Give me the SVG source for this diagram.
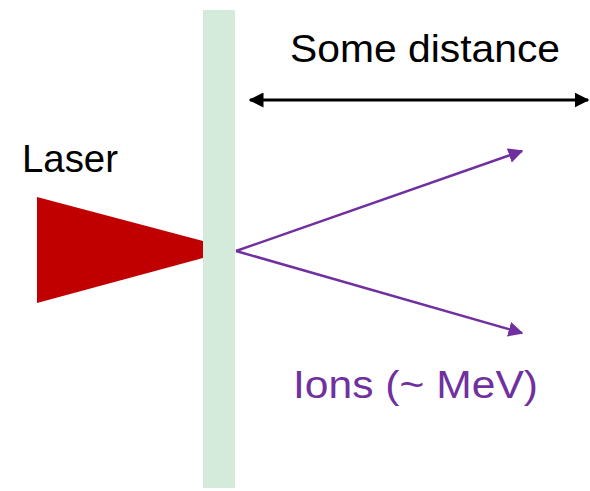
<svg xmlns="http://www.w3.org/2000/svg" width="590" height="491" viewBox="0 0 590 491">
<style>
.lbl{font-family:"Liberation Sans",Arial,sans-serif;font-size:39px;}
.ion{stroke:#7030a0;stroke-width:2.5;fill:none;}
</style>
<defs>
<marker id="ah" viewBox="0 0 10 10" refX="9" refY="5" markerWidth="6" markerHeight="6" markerUnits="strokeWidth" orient="auto-start-reverse">
<path d="M0,0 L10,5 L0,10 Z" fill="#7030a0"/>
</marker>
<marker id="bh" viewBox="0 0 10 10" refX="9" refY="5" markerWidth="5" markerHeight="5" markerUnits="strokeWidth" orient="auto-start-reverse">
<path d="M0,0 L10,5 L0,10 Z" fill="#000"/>
</marker>
</defs>
<rect width="590" height="491" fill="#fff"/>
<g id="target"><rect x="203" y="10" width="32" height="478" fill="#d4eadb"/></g>
<g id="laser">
<polygon points="37,197 203,241 203,258 37,303" fill="#c00000"/>
<text class="lbl" x="22" y="172" fill="#000" textLength="96" lengthAdjust="spacingAndGlyphs">Laser</text>
</g>
<g id="distance-label"><text class="lbl" x="290" y="62" fill="#000" textLength="270" lengthAdjust="spacingAndGlyphs">Some distance</text></g>
<g id="ions-label"><text class="lbl" x="293" y="398" fill="#7030a0" textLength="245" lengthAdjust="spacingAndGlyphs">Ions (~ MeV)</text></g>
<g id="connectors">
<line x1="250" y1="100" x2="588" y2="100" stroke="#000" stroke-width="3" marker-start="url(#bh)" marker-end="url(#bh)"/>
<line class="ion" x1="236" y1="251" x2="522" y2="151" marker-end="url(#ah)"/>
<line class="ion" x1="236" y1="251" x2="522" y2="333" marker-end="url(#ah)"/>
</g>
</svg>
